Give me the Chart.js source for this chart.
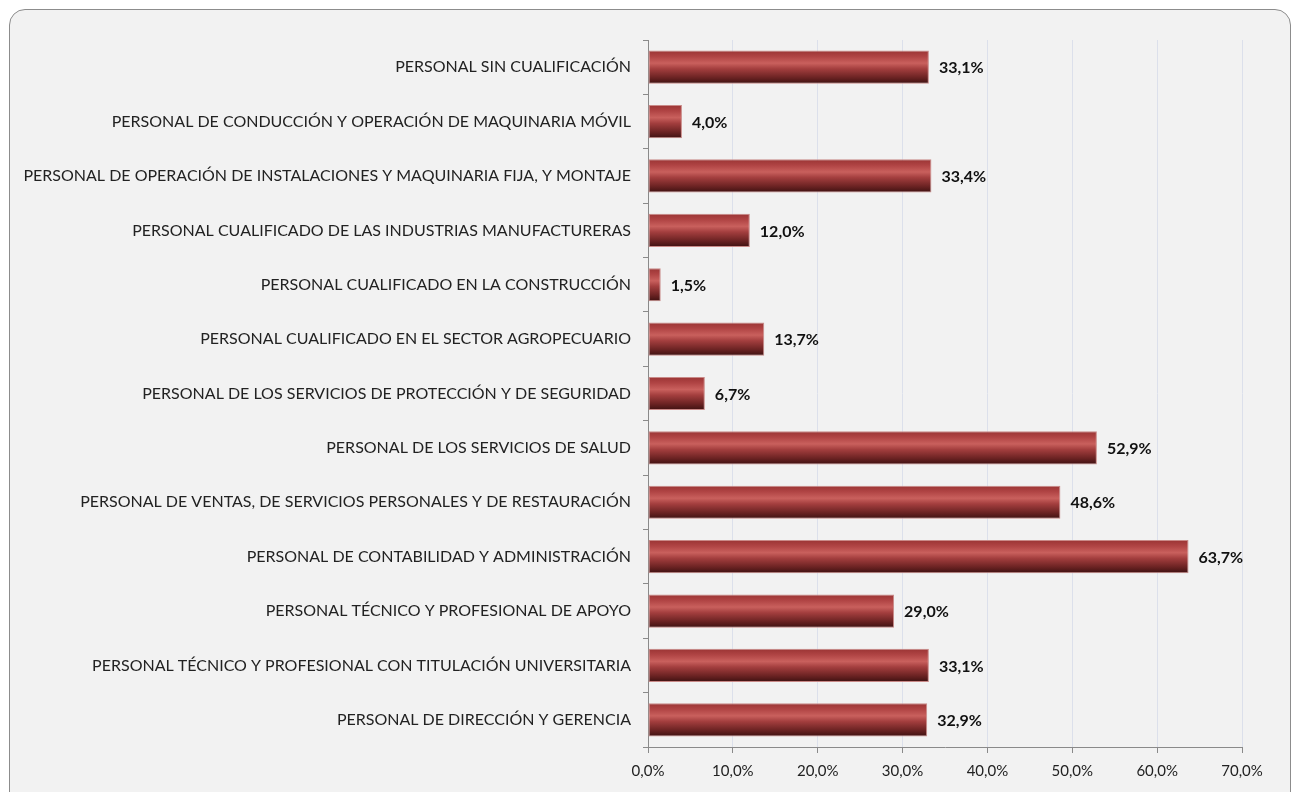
<!DOCTYPE html>
<html>
<head>
<meta charset="utf-8">
<script src="https://cdn.jsdelivr.net/npm/chart.js@4"></script>
<style>
  html, body { margin: 0; padding: 0; background: #ffffff; }
  #marco {
    position: absolute; left: 9px; top: 9px; width: 1282px; height: 800px;
    box-sizing: border-box; border: 1px solid #8c8c8c; border-radius: 16px;
    background: #f2f2f2;
  }
  #wrap { position: absolute; left: 0; top: 0; width: 1292px; height: 792px; }
</style>
</head>
<body>
<div id="marco"></div>
<div id="wrap"><canvas id="grafico"></canvas></div>
<script>
const categorias = [
  'PERSONAL SIN CUALIFICACIÓN',
  'PERSONAL DE CONDUCCIÓN Y OPERACIÓN DE MAQUINARIA MÓVIL',
  'PERSONAL DE OPERACIÓN DE INSTALACIONES Y MAQUINARIA FIJA, Y MONTAJE',
  'PERSONAL CUALIFICADO DE LAS INDUSTRIAS MANUFACTURERAS',
  'PERSONAL CUALIFICADO EN LA CONSTRUCCIÓN',
  'PERSONAL CUALIFICADO EN EL SECTOR AGROPECUARIO',
  'PERSONAL DE LOS SERVICIOS DE PROTECCIÓN Y DE SEGURIDAD',
  'PERSONAL DE LOS SERVICIOS DE SALUD',
  'PERSONAL DE VENTAS, DE SERVICIOS PERSONALES Y DE RESTAURACIÓN',
  'PERSONAL DE CONTABILIDAD Y ADMINISTRACIÓN',
  'PERSONAL TÉCNICO Y PROFESIONAL DE APOYO',
  'PERSONAL TÉCNICO Y PROFESIONAL CON TITULACIÓN UNIVERSITARIA',
  'PERSONAL DE DIRECCIÓN Y GERENCIA'
];
const porcentajes = [33.1, 4.0, 33.4, 12.0, 1.5, 13.7, 6.7, 52.9, 48.6, 63.7, 29.0, 33.1, 32.9];
const ejeMax = 70;
const ejePaso = 10;

const fuente = 'Lato, "Open Sans", sans-serif';
const fmt = v => v.toFixed(1).replace('.', ',') + '%';

const BAR_PCT = 0.61;

// degradado tipo cilindro para cada barra
function colorBarra(ctx) {
  const chart = ctx.chart;
  const area = chart.chartArea;
  const y = chart.scales.y;
  if (!area || !y) return '#8e2e2e';
  const centro = y.getPixelForValue(ctx.dataIndex);
  const alto = (area.bottom - area.top) / categorias.length * BAR_PCT;
  const g = chart.ctx.createLinearGradient(0, centro - alto / 2, 0, centro + alto / 2);
  g.addColorStop(0, '#9a3434');
  g.addColorStop(0.18, '#b04444');
  g.addColorStop(0.38, '#c9605d');
  g.addColorStop(0.55, '#a33e3e');
  g.addColorStop(0.8, '#6e2424');
  g.addColorStop(1, '#3e1111');
  return g;
}

const etiquetas = {
  id: 'etiquetas',
  afterDatasetsDraw(chart) {
    const c = chart.ctx;
    const meta = chart.getDatasetMeta(0);
    c.save();
    c.font = 'bold 16px ' + fuente;
    c.fillStyle = '#111111';
    c.textBaseline = 'middle';
    c.textAlign = 'left';
    meta.data.forEach((bar, i) => {
      c.fillText(fmt(porcentajes[i]), bar.x + 10, bar.y + 1);
    });
    c.restore();
  }
};

new Chart(document.getElementById('grafico'), {
  type: 'bar',
  data: {
    labels: categorias,
    datasets: [{
      data: porcentajes,
      backgroundColor: colorBarra,
      borderColor: '#c98a88',
      borderWidth: 1,
      borderSkipped: false,
      barPercentage: BAR_PCT,
      categoryPercentage: 1
    }]
  },
  options: {
    indexAxis: 'y',
    responsive: true,
    maintainAspectRatio: false,
    animation: false,
    layout: { padding: { top: 40, right: 50, bottom: 3, left: 20 } },
    plugins: { legend: { display: false }, tooltip: { enabled: false } },
    scales: {
      x: {
        min: 0, max: ejeMax,
        ticks: {
          stepSize: ejePaso,
          callback: v => fmt(v),
          color: '#222222',
          font: { family: fuente, size: 15 },
          padding: 9
        },
        grid: { color: '#dce0eb', lineWidth: 1, tickColor: '#8a8a8a', tickLength: 6 },
        border: { color: '#8a8a8a', width: 1 }
      },
      y: {
        // ancho fijo para que quepan las etiquetas largas sin recortar
        afterFit: scale => { scale.width = 628; },
        ticks: {
          color: '#222222',
          font: { family: fuente, size: 16 },
          padding: 12
        },
        grid: { display: true, drawOnChartArea: false, offset: true, tickColor: '#8a8a8a', tickLength: 5 },
        border: { color: '#8a8a8a', width: 1 }
      }
    }
  },
  plugins: [etiquetas]
});
</script>
</body>
</html>
